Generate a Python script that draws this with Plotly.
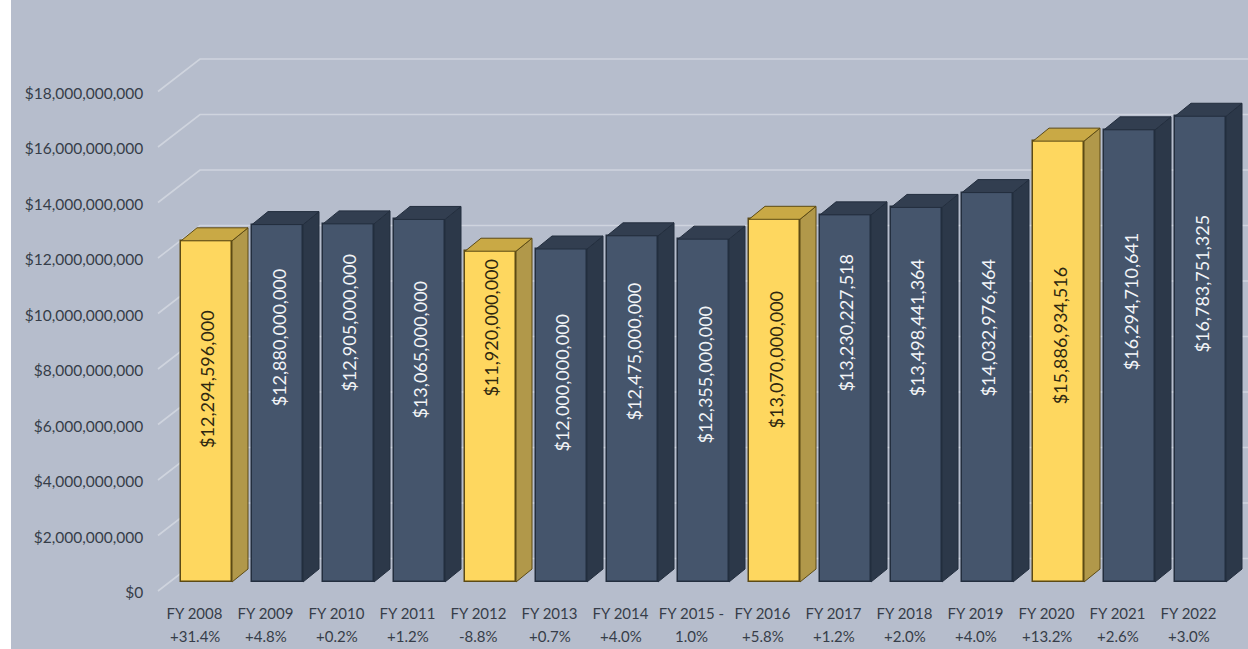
import plotly.graph_objects as go

categories = ["FY 2008", "FY 2009", "FY 2010", "FY 2011", "FY 2012", "FY 2013", "FY 2014", "FY 2015 -",
              "FY 2016", "FY 2017", "FY 2018", "FY 2019", "FY 2020", "FY 2021", "FY 2022"]
changes = ["+31.4%", "+4.8%", "+0.2%", "+1.2%", "-8.8%", "+0.7%", "+4.0%", "1.0%",
           "+5.8%", "+1.2%", "+2.0%", "+4.0%", "+13.2%", "+2.6%", "+3.0%"]
values = [12294596000, 12880000000, 12905000000, 13065000000, 11920000000, 12000000000, 12475000000,
          12355000000, 13070000000, 13230227518, 13498441364, 14032976464, 15886934516, 16294710641,
          16783751325]
highlighted = [0, 4, 8, 12]
label_centres = [7.3e9, 8.8e9, 9.33e9, 8.36e9, 9.15e9, 7.17e9, 8.29e9, 7.46e9, 8.0e9,
                 9.33e9, 9.15e9, 9.15e9, 8.87e9, 10.1e9, 10.74e9]
tick_values = [i * 2e9 for i in range(10)]

W, H = 1248, 649
LEFT, TOP = 11, 0
X0, PITCH = 206.5, 71.0
Y0, SCALE = 582.0, 27.75e-9
BAR_W = 51.0
DX, DY = 16.0 / PITCH, 13.0 / SCALE
BG = "#b6bdcc"
TXT = "#363d49"
FONT = "Lato"


def px_x(p):
    return (p - X0) / PITCH


def px_y(p):
    return (Y0 - p) / SCALE


n = len(values)
half = BAR_W / PITCH / 2
NAVY = dict(front="#45556c", side="#2c3849", top="#323e50", line="#232e3e", text="#f2f4f7")
GOLD = dict(front="#fed75f", side="#b1984a", top="#c9a945", line="#5c4a14", text="#2e2710")
style = [GOLD if i in highlighted else NAVY for i in range(n)]

fig = go.Figure()

# back wall gridlines: a slanted run from the label plane, then across the wall, behind the bars
wall_dx = 42 / PITCH
wall_dy = 32.5 / SCALE
label_drop = 9 / SCALE
shapes = []
for v in tick_values:
    y_front = v - label_drop
    y_back = y_front + wall_dy
    x_a, x_b, x_c = px_x(158), px_x(158) + wall_dx, px_x(W)
    shapes.append(dict(type="path", layer="below", xref="x", yref="y",
                       path=f"M {x_a} {y_front} L {x_b} {y_back} L {x_c} {y_back}",
                       line=dict(color="#cfd4de", width=1.6)))

# side and top faces of every bar
for i in range(n):
    v = values[i]
    s = style[i]
    r, l = i + half, i - half
    fig.add_trace(go.Scatter(x=[r, r + DX, r + DX, r, r], y=[0, DY, v + DY, v, 0], mode="lines",
                             fill="toself", fillcolor=s["side"], line=dict(color=s["line"], width=1),
                             hoverinfo="skip", showlegend=False))
    fig.add_trace(go.Scatter(x=[l, l + DX, r + DX, r, l], y=[v, v + DY, v + DY, v, v], mode="lines",
                             fill="toself", fillcolor=s["top"], line=dict(color=s["line"], width=1),
                             hoverinfo="skip", showlegend=False))

fig.add_trace(go.Bar(x=list(range(n)), y=values, width=BAR_W / PITCH,
                     marker=dict(color=[s["front"] for s in style],
                                 line=dict(color=[s["line"] for s in style], width=1.5)),
                     showlegend=False))

annotations = [dict(x=i + 1 / PITCH, y=label_centres[i], text="$" + format(values[i], ","), textangle=-90,
                    showarrow=False, xanchor="center", yanchor="middle",
                    font=dict(family=FONT, size=18, color=style[i]["text"]))
               for i in range(n)]
annotations += [dict(x=i, y=px_y(636), text=changes[i], showarrow=False, xanchor="center", yanchor="middle",
                     xshift=-12, font=dict(family=FONT, size=15, color=TXT))
                for i in range(n)]

fig.update_layout(
    width=W, height=H, margin=dict(l=0, r=0, t=0, b=0), autosize=False,
    paper_bgcolor="white", plot_bgcolor=BG, bargap=0, annotations=annotations, shapes=shapes, showlegend=False,
    xaxis=dict(domain=[LEFT / W, 1], range=[px_x(LEFT), px_x(W)], anchor="free", position=(H - 603) / (H - TOP),
               tickmode="array", tickvals=list(range(n)), ticktext=categories,
               showgrid=False, zeroline=False, showline=False, ticks="", ticklabelshift=-12,
               tickfont=dict(family=FONT, size=15, color=TXT)),
    yaxis=dict(domain=[0, 1 - TOP / H], range=[px_y(H), px_y(TOP)], anchor="free", position=(153 - LEFT) / (W - LEFT),
               tickmode="array", tickvals=tick_values, ticktext=["$" + format(int(t), ",") for t in tick_values],
               showgrid=False, zeroline=False, showline=False, ticks="", ticklabelshift=11,
               tickfont=dict(family=FONT, size=15.5, color=TXT)),
)
fig.write_html("out.html", config=dict(displayModeBar=False), post_script="document.body.style.margin='0';")
